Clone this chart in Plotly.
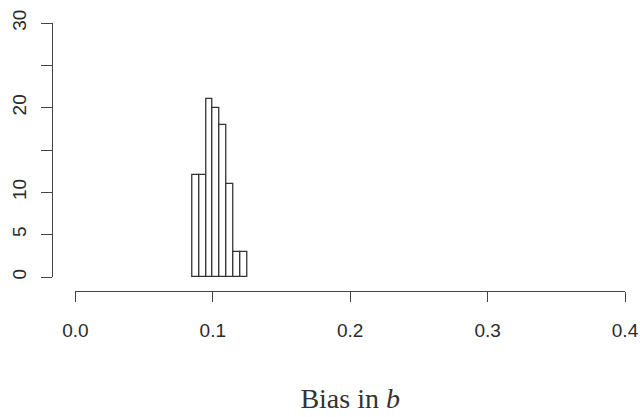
import plotly.graph_objects as go

# Histogram of the bias in b: bin edges (width 0.005) and counts
bin_left = [0.085, 0.090, 0.095, 0.100, 0.105, 0.110, 0.115, 0.120]
counts = [12, 12, 21, 20, 18, 11, 3, 3]
bin_width = 0.005

x_ticks = [0.0, 0.1, 0.2, 0.3, 0.4]
x_ticktext = ["0.0", "0.1", "0.2", "0.3", "0.4"]
y_ticks = [0, 5, 10, 15, 20, 25, 30]
y_ticktext = ["0", "5", "10", "", "20", "", "30"]

centers = [b + bin_width / 2 for b in bin_left]

fig = go.Figure(
    go.Bar(
        x=centers,
        y=counts,
        width=[bin_width] * len(counts),
        marker=dict(color="white", line=dict(color="#333333", width=1.3)),
        showlegend=False,
    )
)

W, H = 640, 417
left_px, right_px = 52, 625      # paper area (axis lines sit on its edges)
top_px, bottom_px = 23, 291
plot_left_px, plot_bottom_px = 75.4, 277

paper_w = right_px - left_px
paper_h = bottom_px - top_px

axis_font = dict(family="Liberation Sans, Arial, sans-serif", size=19, color="#2a2a2a")

fig.update_layout(
    width=W,
    height=H,
    margin=dict(l=left_px, r=W - right_px, t=top_px, b=H - bottom_px, pad=0),
    paper_bgcolor="white",
    plot_bgcolor="white",
    bargap=0,
    xaxis=dict(
        domain=[(plot_left_px - left_px) / paper_w, 1],
        anchor="free",
        position=0,
        automargin=False,
        range=[0, 0.4],
        tickvals=x_ticks,
        ticktext=x_ticktext,
        showline=True,
        linecolor="#444444",
        linewidth=1.4,
        ticks="outside",
        ticklen=10,
        tickwidth=1.4,
        tickcolor="#444444",
        ticklabelstandoff=12,
        showgrid=False,
        zeroline=False,
        tickfont=axis_font,
        title=dict(
            text="Bias in <i>b</i>",
            font=dict(family="Liberation Serif, Times New Roman, serif", size=28, color="#333333"),
            standoff=48,
        ),
    ),
    yaxis=dict(
        domain=[(bottom_px - plot_bottom_px) / paper_h, 1],
        anchor="free",
        position=0,
        automargin=False,
        range=[0, 30],
        tickvals=y_ticks,
        ticktext=y_ticktext,
        tickangle=-90,
        showline=True,
        linecolor="#444444",
        linewidth=1.4,
        ticks="outside",
        ticklen=11,
        tickwidth=1.4,
        tickcolor="#444444",
        ticklabelstandoff=7,
        showgrid=False,
        zeroline=False,
        tickfont=axis_font,
    ),
)

fig.write_html("out.html")
